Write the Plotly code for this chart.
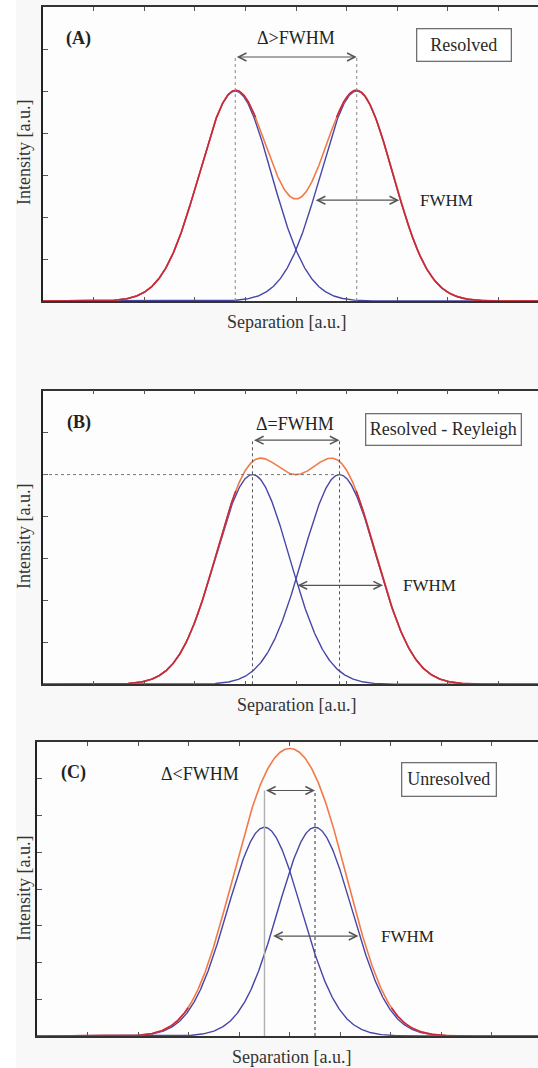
import numpy as np
import plotly.graph_objects as go

# ---------------- data ----------------
panel_labels = ["(A)", "(B)", "(C)"]
status_labels = ["Resolved", "Resolved - Reyleigh", "Unresolved"]
delta_labels = ["Δ>FWHM", "Δ=FWHM", "Δ<FWHM"]
fwhm_label = "FWHM"
x_title = "Separation [a.u.]"
y_title = "Intensity [a.u.]"

# two component peaks per panel (separation axis units, 1 unit = 1 tick)
peak_centers = [[3.80, 6.20], [4.14, 5.86], [4.50, 5.50]]
peak_heights = [5.00, 5.00, 5.68]
peak_fwhm = [1.68, 1.72, 1.72]
# terms that build the orange envelope (peak of C envelope read as 7.82)
envelope_centers = [[3.80, 6.20], [4.14, 5.86], [4.43, 5.57]]
envelope_scale = [1.0, 1.0, 0.934]

x_ticks = list(range(0, 11))
y_ticks_per_panel = [list(range(0, 8)), list(range(0, 8)), list(range(0, 9))]

# ---------------- layout helpers ----------------
W, H = 538, 1068
def px(x):
    return x / W
def py(y):
    return 1 - y / H

# per panel geometry in pixels: left, top, bottom, tick spacing
geom = [
    dict(left=43, top=7, bottom=301, xstep=50.6),
    dict(left=43, top=390.7, bottom=684.3, xstep=50.6),
    dict(left=37, top=742, bottom=1036, xstep=50.55),
]
# annotation placement per panel (data units unless noted)
place = [
    dict(lab=(0.71, 6.26), dtxt=(5.0, 6.26), darrow=5.81, box=(8.32, 6.10), bw=96, bh=34,
         fwy=2.40, fwtxt=7.41, xt=(286.5, 322), yt=(24, 153), vstyle=("dot", "#8a8a8a", 1.0, "dot", "#8a8a8a", 1.0)),
    dict(lab=(0.72, 6.25), dtxt=(4.98, 6.21), darrow=5.82, box=(7.92, 6.07), bw=157, bh=33,
         fwy=2.36, fwtxt=7.07, xt=(296, 705), yt=(24, 537), vstyle=("dot", "#555", 1.0, "dot", "#555", 1.0)),
    dict(lab=(0.73, 7.18), dtxt=(3.22, 7.13), darrow=6.68, box=(8.15, 6.98), bw=96, bh=35,
         fwy=2.72, fwtxt=6.77, xt=(291, 1056.5), yt=(24, 889), vstyle=("solid", "#b0b0b0", 1.4, "dot", "#333", 1.0)),
]

BLUE = "#4646a8"
ORANGE = "#f27a48"
CRIMSON = "#c8283e"
FONT = "Liberation Serif"

def gauss(x, c, a, fwhm):
    s = fwhm / (2 * np.sqrt(2 * np.log(2)))
    return a * np.exp(-(x - c) ** 2 / (2 * s ** 2))

xs = np.linspace(0, 10, 1001)

fig = go.Figure()
annotations = []
shapes = []

for i in range(3):
    g = geom[i]
    p = place[i]
    xa = "x" if i == 0 else f"x{i+1}"
    ya = "y" if i == 0 else f"y{i+1}"
    xkey = "xaxis" if i == 0 else f"xaxis{i+1}"
    ykey = "yaxis" if i == 0 else f"yaxis{i+1}"
    ytop = y_ticks_per_panel[i][-1]
    xmax = (W - g["left"]) / g["xstep"]

    comps = [gauss(xs, c, peak_heights[i], peak_fwhm[i]) for c in peak_centers[i]]
    env = envelope_scale[i] * sum(gauss(xs, c, peak_heights[i], peak_fwhm[i]) for c in envelope_centers[i])
    cmax = np.maximum(comps[0], comps[1])
    overlap = np.where(np.abs(env - cmax) < 0.1, env, np.nan)

    for comp in comps:
        fig.add_trace(go.Scatter(x=xs, y=comp, mode="lines", line=dict(color=BLUE, width=1.4),
                                 xaxis=xa, yaxis=ya, showlegend=False, hoverinfo="skip"))
    fig.add_trace(go.Scatter(x=xs, y=env, mode="lines", line=dict(color=ORANGE, width=1.6),
                             xaxis=xa, yaxis=ya, showlegend=False, hoverinfo="skip"))
    fig.add_trace(go.Scatter(x=xs, y=overlap, mode="lines", line=dict(color=CRIMSON, width=1.6),
                             xaxis=xa, yaxis=ya, showlegend=False, hoverinfo="skip", connectgaps=False))

    fig.update_layout(**{
        xkey: dict(domain=[px(g["left"]), 1.0], range=[0, xmax], anchor=ya,
                   tickvals=x_ticks, showticklabels=False, ticks="inside", ticklen=4,
                   tickcolor="#555", tickwidth=1, showline=True, linecolor="#333", linewidth=1.5,
                   mirror="ticks", showgrid=False, zeroline=False, fixedrange=True),
        ykey: dict(domain=[py(g["bottom"]), py(g["top"])], range=[0, ytop], anchor=xa,
                   tickvals=y_ticks_per_panel[i], showticklabels=False, ticks="inside", ticklen=5,
                   tickcolor="#555", tickwidth=1, showline=True, linecolor="#222", linewidth=2.2,
                   mirror=False, showgrid=False, zeroline=False, fixedrange=True),
    })

    c1, c2 = peak_centers[i]
    st = p["vstyle"]
    for cx, dash, col, wid in ((c1, st[0], st[1], st[2]), (c2, st[3], st[4], st[5])):
        shapes.append(dict(type="line", xref=xa, yref=ya, x0=cx, x1=cx, y0=0, y1=p["darrow"],
                           line=dict(color=col, width=wid, dash=dash), layer="above"))
    if i == 1:
        shapes.append(dict(type="line", xref=xa, yref=ya, x0=0, x1=c2, y0=peak_heights[i], y1=peak_heights[i],
                           line=dict(color="#777", width=1, dash="dot"), layer="above"))

    arrow_common = dict(xref=xa, yref=ya, axref=xa, ayref=ya, text="", showarrow=True,
                        arrowhead=5, startarrowhead=5, arrowside="end+start",
                        arrowsize=1.3, startarrowsize=1.3, arrowwidth=1.2, arrowcolor="#555")
    annotations.append(dict(x=c2, y=p["darrow"], ax=c1, ay=p["darrow"], **arrow_common))
    hw = peak_fwhm[i] / 2
    annotations.append(dict(x=c2 + hw, y=p["fwy"], ax=c2 - hw, ay=p["fwy"], **arrow_common))

    txt = dict(xref=xa, yref=ya, showarrow=False)
    annotations.append(dict(x=p["lab"][0], y=p["lab"][1], text=f"<b>{panel_labels[i]}</b>",
                            font=dict(family=FONT, size=18, color="#222"), **txt))
    annotations.append(dict(x=p["dtxt"][0], y=p["dtxt"][1], text=delta_labels[i],
                            font=dict(family=FONT, size=18, color="#222"), **txt))
    annotations.append(dict(x=p["fwtxt"], y=p["fwy"], text=fwhm_label, xanchor="left",
                            font=dict(family=FONT, size=17, color="#222"), **txt))
    annotations.append(dict(x=p["box"][0], y=p["box"][1], text=status_labels[i],
                            xref=xa, yref=ya, showarrow=False,
                            font=dict(family=FONT, size=18, color="#2a2a2a"),
                            bordercolor="#707070", borderwidth=1.3, borderpad=0,
                            bgcolor="#ffffff", width=p["bw"] - 3, height=p["bh"] - 3))
    annotations.append(dict(x=px(p["xt"][0]), y=py(p["xt"][1]), xref="paper", yref="paper",
                            text=x_title, showarrow=False, xanchor="center", yanchor="middle",
                            font=dict(family=FONT, size=18, color="#333")))
    annotations.append(dict(x=px(p["yt"][0]), y=py(p["yt"][1]), xref="paper", yref="paper",
                            text=y_title, showarrow=False, textangle=-90, xanchor="center", yanchor="middle",
                            font=dict(family=FONT, size=18, color="#333")))

shapes.append(dict(type="rect", xref="paper", yref="paper", x0=0, x1=px(16), y0=0, y1=1,
                   fillcolor="#ffffff", line=dict(width=0), layer="below"))

fig.update_layout(width=W, height=H, margin=dict(l=0, r=0, t=0, b=0),
                  paper_bgcolor="#f8f8f8", plot_bgcolor="#fdfdfd",
                  annotations=annotations, shapes=shapes, showlegend=False)

fig.write_html("out.html", config={"displayModeBar": False},
               post_script="document.body.style.margin='0';document.body.style.padding='0';"
                           "document.body.style.overflow='hidden';"
                           "document.documentElement.style.overflow='hidden';")
